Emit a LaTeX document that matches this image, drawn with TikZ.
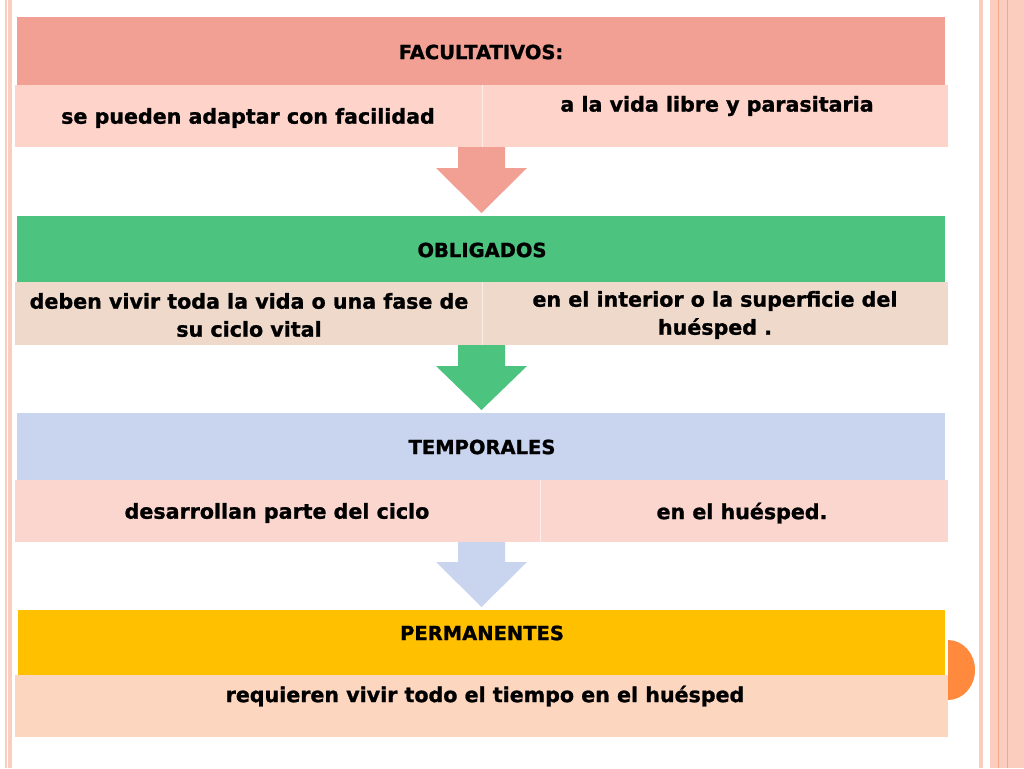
\documentclass[tikz,border=0pt]{standalone}
\usepackage{fontspec}
\setmainfont{DejaVu Sans}[BoldFeatures={FakeBold=1.2}]
\definecolor{hdrA}{HTML}{F1A093}
\definecolor{rowA}{HTML}{FDD3CA}
\definecolor{hdrB}{HTML}{4CC47F}
\definecolor{rowB}{HTML}{EFD9CA}
\definecolor{hdrC}{HTML}{C9D5EE}
\definecolor{rowC}{HTML}{FAD6CE}
\definecolor{hdrD}{HTML}{FFC000}
\definecolor{rowD}{HTML}{FDD6BF}
\definecolor{deco}{HTML}{FBCDBF}
\definecolor{decodark}{HTML}{F4A888}
\definecolor{halfc}{HTML}{FF8A3D}
\tikzset{
  hdrtext/.style={font=\bfseries\fontsize{19.5}{23}\selectfont, inner sep=0pt, align=center},
  rowtext/.style={font=\bfseries\fontsize{20.6}{28}\selectfont, inner sep=0pt, align=center},
  divider/.style={draw=white, opacity=0.6, line width=1pt}
}
\begin{document}
\begin{tikzpicture}[x=1pt,y=-1pt]
\useasboundingbox (0,0) rectangle (1024,768);
\fill[white] (0,0) rectangle (1024,768);
% side decorations
\fill[deco] (5,0) rectangle (7,768);
\fill[deco] (8,0) rectangle (12,768);
\fill[deco] (979,0) rectangle (983,768);
\fill[deco] (990,0) rectangle (1024,768);
\fill[decodark] (997.5,0) rectangle (998.8,768);
\fill[decodark] (1006.5,0) rectangle (1007.8,768);
% half circle
\fill[halfc] (948,640) arc[start angle=-90, end angle=90, x radius=27, y radius=30] -- cycle;

% Box 1
\fill[hdrA] (17,17) rectangle (945,85);
\fill[rowA] (15,85) rectangle (948,147);
\draw[divider] (482,85) -- (482,147);
\node[hdrtext] (h1) at (481,52) {FACULTATIVOS:};
\node[rowtext] (a1) at (248,118) {se pueden adaptar con facilidad};
\node[rowtext] (b1) at (717,106) {a la vida libre y parasitaria};
\fill[hdrA] (458,147) -- (505,147) -- (505,168) -- (527,168) -- (481.5,213) -- (436,168) -- (458,168) -- cycle;

% Box 2
\fill[hdrB] (17,216) rectangle (945,282);
\fill[rowB] (15,282) rectangle (948,345);
\draw[divider] (482,282) -- (482,345);
\node[hdrtext] (h2) at (482,250) {OBLIGADOS};
\node[rowtext] (a2) at (249,315) {deben vivir toda la vida o una fase de\\su ciclo vital};
\node[rowtext] (b2) at (715,315) {en el interior o la superficie del\\huésped .};
\fill[hdrB] (458,345) -- (505,345) -- (505,366) -- (527,366) -- (481.5,410) -- (436,366) -- (458,366) -- cycle;

% Box 3
\fill[hdrC] (17,413) rectangle (945,480);
\fill[rowC] (15,480) rectangle (948,542);
\draw[divider] (540,480) -- (540,542);
\node[hdrtext] (h3) at (482,447) {TEMPORALES};
\node[rowtext] (a3) at (277,513) {desarrollan parte del ciclo};
\node[rowtext] (b3) at (742,513) {en el huésped.};
\fill[hdrC] (458,542) -- (505,542) -- (505,562) -- (527,562) -- (481.5,607) -- (436,562) -- (458,562) -- cycle;

% Box 4
\fill[hdrD] (18,610) rectangle (945,675);
\fill[rowD] (15,675) rectangle (948,737);
\node[hdrtext] (h4) at (482,633) {PERMANENTES};
\node[rowtext] (a4) at (485,696) {requieren vivir todo el tiempo en el huésped};
\end{tikzpicture}
\end{document}
